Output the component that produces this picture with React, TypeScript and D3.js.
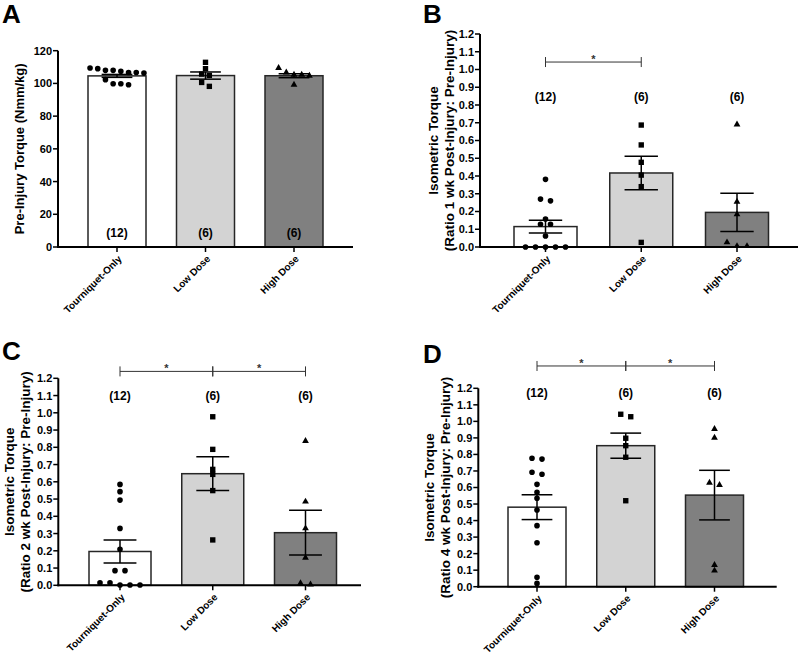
import React from "react";
import * as d3 from "d3";

const categories = ["Tourniquet-Only", "Low Dose", "High Dose"];
const groupSizes = ["(12)", "(6)", "(6)"];
const fills = ["#ffffff", "#d3d3d3", "#808080"];
const shapes = ["circle", "square", "triangle"];

// Panel A: Pre-injury torque (Nmm/kg)
const aTicks = [0, 20, 40, 60, 80, 100, 120];
const aTourniquet = [109.4, 109.0, 108.0, 108.0, 107.4, 106.7, 106.7, 106.3, 102.3, 99.8, 99.8, 99.2];
const aLow = [112.9, 109.0, 105.7, 104.9, 100.6, 98.2];
const aHigh = [109.4, 106.7, 105.3, 105.3, 104.7, 99.2];
const aMeans = [104.6, 104.8, 104.7];
const aSems = [0.9, 2.2, 1.2];

// Ratio ticks shared by B, C, D
const ratioTicks = [0.0, 0.1, 0.2, 0.3, 0.4, 0.5, 0.6, 0.7, 0.8, 0.9, 1.0, 1.1, 1.2];

// Panel B: 1 wk
const bTourniquet = [0.381, 0.27, 0.26, 0.158, 0.128, 0.128, 0.062, 0, 0, 0, 0, 0];
const bLow = [0.687, 0.575, 0.477, 0.405, 0.34, 0.026];
const bHigh = [0.69, 0.255, 0.184, 0.026, 0.005, 0.005];
const bMeans = [0.115, 0.417, 0.195];
const bSems = [0.036, 0.094, 0.108];

// Panel C: 2 wk
const cTourniquet = [0.585, 0.543, 0.494, 0.33, 0.209, 0.085, 0.085, 0.015, 0.015, 0.002, 0.002, 0.002];
const cLow = [0.977, 0.788, 0.672, 0.643, 0.549, 0.263];
const cHigh = [0.837, 0.485, 0.33, 0.16, 0.012, 0.005];
const cMeans = [0.196, 0.647, 0.305];
const cSems = [0.066, 0.098, 0.13];

// Panel D: 4 wk
const dTourniquet = [0.777, 0.772, 0.692, 0.68, 0.619, 0.571, 0.535, 0.464, 0.369, 0.266, 0.057, 0.02];
const dLow = [1.043, 1.028, 0.898, 0.853, 0.783, 0.52];
const dHigh = [0.954, 0.901, 0.629, 0.615, 0.131, 0.097];
const dMeans = [0.481, 0.853, 0.554];
const dSems = [0.075, 0.076, 0.15];

const FONT = "'Liberation Sans', Arial, Helvetica, sans-serif";

type Cfg = {
  letter: string;
  letterX: number;
  letterY: number;
  ax: number;
  yTop: number;
  yBot: number;
  xEnd: number;
  c0: number;
  c2: number;
  bw: number;
  max: number;
  ticks: number[];
  fmt: (v: number) => string;
  title: string[];
  titleX: number[];
  titleSize: number;
  nAt: number;
  bracketAt?: number;
  brackets: [number, number][];
  groups: number[][];
  means: number[];
  sems: number[];
  spacing: number;
};

function swarm(values: number[], y: d3.ScaleLinear<number, number>, cx: number, spacing: number) {
  const pts = values.map((v) => ({ v, py: y(v) })).sort((a, b) => a.py - b.py);
  const rows: { v: number; py: number }[][] = [];
  let cur: { v: number; py: number }[] = [];
  for (const p of pts) {
    if (cur.length && p.py - cur[cur.length - 1].py > 4.5) {
      rows.push(cur);
      cur = [p];
    } else cur.push(p);
  }
  if (cur.length) rows.push(cur);
  const out: { px: number; py: number }[] = [];
  rows.forEach((r) => {
    const k = r.length;
    r.forEach((p, i) => out.push({ px: cx + (i - (k - 1) / 2) * spacing, py: p.py }));
  });
  return out;
}

const symbolFor: Record<string, d3.SymbolType> = {
  circle: d3.symbolCircle,
  square: d3.symbolSquare,
  triangle: d3.symbolTriangle,
};
const sizeFor: Record<string, number> = { circle: 25, square: 29, triangle: 20 };

function Panel({ cfg }: { cfg: Cfg }) {
  const y = d3.scaleLinear().domain([0, cfg.max]).range([cfg.yBot, cfg.yTop]);
  const x = d3.scalePoint<string>().domain(categories).range([cfg.c0, cfg.c2]);
  const capW = cfg.bw * 0.53;
  const midY = (cfg.yTop + cfg.yBot) / 2;
  return (
    <g>
      <text
        x={cfg.letterX}
        y={cfg.letterY}
        fontFamily={FONT}
        fontWeight="bold"
        fontSize={26}
        fill="#000"
      >
        {cfg.letter}
      </text>
      {/* bars */}
      {categories.map((c, i) => (
        <rect
          key={"bar" + c}
          x={(x(c) as number) - cfg.bw / 2}
          y={y(cfg.means[i])}
          width={cfg.bw}
          height={cfg.yBot - y(cfg.means[i])}
          fill={fills[i]}
          stroke="#262626"
          strokeWidth={1.5}
        />
      ))}
      {/* error bars */}
      {categories.map((c, i) => {
        const cx = x(c) as number;
        const hi = y(cfg.means[i] + cfg.sems[i]);
        const lo = y(cfg.means[i] - cfg.sems[i]);
        return (
          <g key={"err" + c} stroke="#000" strokeWidth={1.5}>
            <line x1={cx} x2={cx} y1={hi} y2={lo} />
            <line x1={cx - capW / 2} x2={cx + capW / 2} y1={hi} y2={hi} />
            <line x1={cx - capW / 2} x2={cx + capW / 2} y1={lo} y2={lo} />
          </g>
        );
      })}
      {/* points */}
      {categories.map((c, i) => {
        const gen = d3.symbol().type(symbolFor[shapes[i]]).size(sizeFor[shapes[i]]);
        const d = gen() as string;
        return swarm(cfg.groups[i], y, x(c) as number, cfg.spacing).map((p, j) => (
          <path key={c + j} d={d} transform={`translate(${p.px},${p.py})`} fill="#000" />
        ));
      })}
      {/* axes */}
      <line x1={cfg.ax} x2={cfg.ax} y1={cfg.yTop} y2={cfg.yBot + 1} stroke="#000" strokeWidth={2} />
      <line x1={cfg.ax - 1} x2={cfg.xEnd} y1={cfg.yBot} y2={cfg.yBot} stroke="#000" strokeWidth={2} />
      {cfg.ticks.map((t) => (
        <g key={"t" + t}>
          <line x1={cfg.ax - 5} x2={cfg.ax} y1={y(t)} y2={y(t)} stroke="#000" strokeWidth={1.5} />
          <text
            x={cfg.ax - 6}
            y={y(t)}
            dy="0.36em"
            textAnchor="end"
            fontFamily={FONT}
            fontWeight="bold"
            fontSize={11}
            fill="#000"
          >
            {cfg.fmt(t)}
          </text>
        </g>
      ))}
      {categories.map((c) => {
        const cx = x(c) as number;
        return (
          <g key={"xt" + c}>
            <line x1={cx} x2={cx} y1={cfg.yBot} y2={cfg.yBot + 5} stroke="#000" strokeWidth={1.5} />
            <text
              transform={`translate(${cx + 3},${cfg.yBot + 10}) rotate(-45)`}
              textAnchor="end"
              dy="0.35em"
              fontFamily={FONT}
              fontWeight="bold"
              fontSize={10}
              fill="#000"
            >
              {c}
            </text>
          </g>
        );
      })}
      {/* y title */}
      {cfg.title.map((t, k) => (
        <text
          key={"ti" + k}
          transform={`translate(${cfg.titleX[k]},${midY}) rotate(-90)`}
          textAnchor="middle"
          dy="0.35em"
          fontFamily={FONT}
          fontWeight="bold"
          fontSize={cfg.titleSize}
          fill="#000"
        >
          {t}
        </text>
      ))}
      {/* n labels */}
      {categories.map((c, i) => (
        <text
          key={"n" + c}
          x={x(c) as number}
          y={y(cfg.nAt)}
          dy="0.35em"
          textAnchor="middle"
          fontFamily={FONT}
          fontWeight="bold"
          fontSize={12}
          fill="#000"
        >
          {groupSizes[i]}
        </text>
      ))}
      {/* significance brackets */}
      {cfg.bracketAt !== undefined &&
        cfg.brackets.map(([a, b], k) => {
          const by = y(cfg.bracketAt as number);
          const xa = x(categories[a]) as number;
          const xb = x(categories[b]) as number;
          return (
            <g key={"br" + k} stroke="#333" strokeWidth={1}>
              <line x1={xa} x2={xb} y1={by} y2={by} />
              <line x1={xa} x2={xa} y1={by - 5} y2={by + 5} />
              <line x1={xb} x2={xb} y1={by - 5} y2={by + 5} />
              <text
                x={(xa + xb) / 2}
                y={by + 1}
                textAnchor="middle"
                fontFamily={FONT}
                fontWeight="bold"
                fontSize={11}
                fill="#333"
                stroke="none"
              >
                *
              </text>
            </g>
          );
        })}
    </g>
  );
}

const fmtInt = d3.format("d");
const fmt1 = d3.format(".1f");

const panels: Cfg[] = [
  {
    letter: "A", letterX: 2, letterY: 23,
    ax: 58, yTop: 50.7, yBot: 247, xEnd: 353, c0: 117, c2: 294, bw: 58,
    max: 120, ticks: aTicks, fmt: fmtInt,
    title: ["Pre-Injury Torque (Nmm/kg)"], titleX: [19], titleSize: 13,
    nAt: 8.5, brackets: [],
    groups: [aTourniquet, aLow, aHigh], means: aMeans, sems: aSems, spacing: 7.7,
  },
  {
    letter: "B", letterX: 423, letterY: 23,
    ax: 480, yTop: 34, yBot: 247, xEnd: 798, c0: 545.5, c2: 737, bw: 63,
    max: 1.2, ticks: ratioTicks, fmt: fmt1,
    title: ["Isometric Torque", "(Ratio 1 wk Post-Injury: Pre-Injury)"], titleX: [433, 449], titleSize: 13.5,
    nAt: 0.845, bracketAt: 1.042, brackets: [[0, 1]],
    groups: [bTourniquet, bLow, bHigh], means: bMeans, sems: bSems, spacing: 10,
  },
  {
    letter: "C", letterX: 2, letterY: 360,
    ax: 58.3, yTop: 378.3, yBot: 585.3, xEnd: 361, c0: 120, c2: 305.5, bw: 62,
    max: 1.2, ticks: ratioTicks, fmt: fmt1,
    title: ["Isometric Torque", "(Ratio 2 wk Post-Injury: Pre-Injury)"], titleX: [9, 25], titleSize: 13.5,
    nAt: 1.1, bracketAt: 1.24, brackets: [[0, 1], [1, 2]],
    groups: [cTourniquet, cLow, cHigh], means: cMeans, sems: cSems, spacing: 10,
  },
  {
    letter: "D", letterX: 423, letterY: 363,
    ax: 478.3, yTop: 388.3, yBot: 586.7, xEnd: 776.7, c0: 537, c2: 714.5, bw: 58,
    max: 1.2, ticks: ratioTicks, fmt: fmt1,
    title: ["Isometric Torque", "(Ratio 4 wk Post-Injury: Pre-Injury)"], titleX: [429, 445], titleSize: 13.5,
    nAt: 1.17, bracketAt: 1.335, brackets: [[0, 1], [1, 2]],
    groups: [dTourniquet, dLow, dHigh], means: dMeans, sems: dSems, spacing: 10,
  },
];

export default function App() {
  return (
    <svg
      width={803}
      height={659}
      viewBox="0 0 803 659"
      style={{ position: "absolute", left: 0, top: 0, background: "#fff" }}
    >
      <rect x={0} y={0} width={803} height={659} fill="#fff" />
      {panels.map((p) => (
        <Panel key={p.letter} cfg={p} />
      ))}
    </svg>
  );
}
